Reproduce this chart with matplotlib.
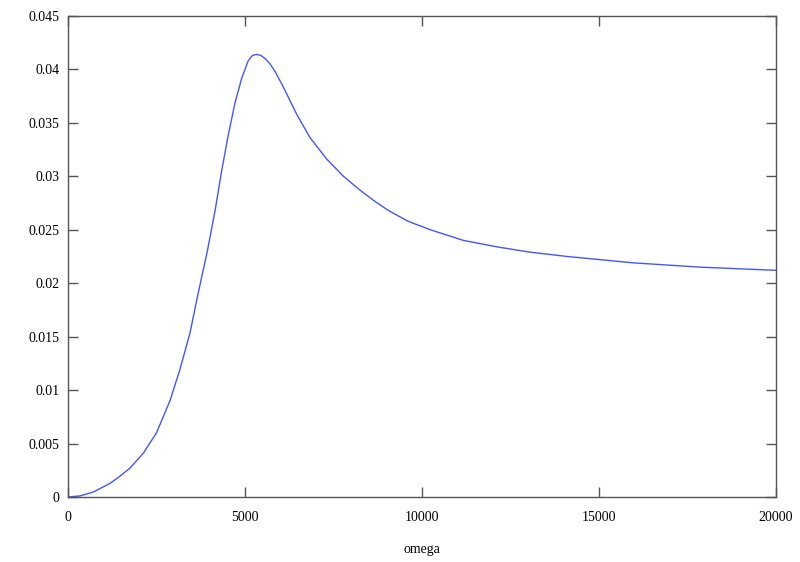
import matplotlib
matplotlib.use('Agg')
import matplotlib.pyplot as plt

# curve
omega = [0, 340, 720, 1190, 1450, 1750, 2130, 2500, 2880, 3160, 3450, 3680,
         3930, 4150, 4340, 4530, 4720, 4910, 5090, 5210, 5330, 5450, 5570,
         5710, 5850, 6090, 6460, 6840, 7310, 7780, 8250, 8650, 9050, 9600,
         10230, 11170, 12110, 13050, 14090, 15970, 17850, 20000]
values = [0, 0.0001, 0.00047, 0.00128, 0.0019, 0.0027, 0.0041, 0.0060,
          0.0090, 0.0119, 0.0154, 0.0191, 0.0229, 0.0267, 0.0305, 0.0339,
          0.0369, 0.0392, 0.0408, 0.0413, 0.0414, 0.0413, 0.0410, 0.0405,
          0.0398, 0.0383, 0.0358, 0.0336, 0.0316, 0.0300, 0.0287, 0.0277,
          0.0268, 0.0258, 0.0250, 0.0240, 0.0234, 0.0229, 0.0225, 0.0219,
          0.0215, 0.0212]

xticks = [0, 5000, 10000, 15000, 20000]
yticks = [0, 0.005, 0.01, 0.015, 0.02, 0.025, 0.03, 0.035, 0.04, 0.045]
ytick_labels = ['0', '0.005', '0.01', '0.015', '0.02', '0.025', '0.03',
                '0.035', '0.04', '0.045']

plt.rcParams['font.family'] = ['Liberation Serif', 'DejaVu Serif']
plt.rcParams['font.size'] = 10

fig = plt.figure(figsize=(8, 5.62), dpi=100)
ax = fig.add_axes([0.085, 0.1157, 0.885, 0.856])

ax.plot(omega, values, color='#4455ff', linewidth=1.0, solid_joinstyle='round')

ax.set_xlim(0, 20000)
ax.set_ylim(0, 0.045)
ax.set_xticks(xticks)
ax.set_xticklabels([str(t) for t in xticks])
ax.set_yticks(yticks)
ax.set_yticklabels(ytick_labels)

for s in ax.spines.values():
    s.set_color('#555555')
    s.set_linewidth(1.0)
ax.tick_params(direction='in', length=7, width=1, color='#555555',
               top=True, right=True, labelsize=10)
ax.tick_params(axis='x', pad=10)
ax.tick_params(axis='y', pad=6)

ax.set_xlabel('omega', fontsize=10, labelpad=14)

fig.savefig('out.png', dpi=100)
